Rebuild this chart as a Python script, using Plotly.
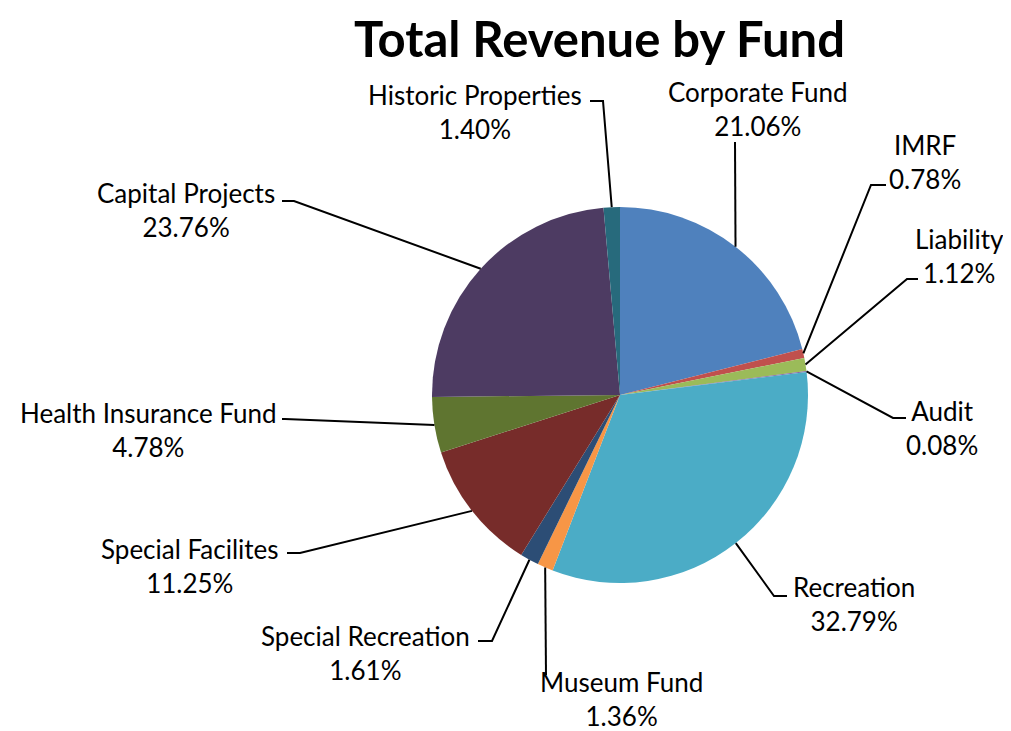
import math
import plotly.graph_objects as go

# ---- data ----
funds = ["Corporate Fund", "IMRF", "Liability", "Audit", "Recreation", "Museum Fund",
         "Special Recreation", "Special Facilites", "Health Insurance Fund",
         "Capital Projects", "Historic Properties"]
shares = [21.06, 0.78, 1.12, 0.08, 32.79, 1.36, 1.61, 11.25, 4.78, 23.76, 1.40]
colors = ["#4F81BD", "#C0504D", "#9BBB59", "#8064A2", "#4BACC6", "#F79646",
          "#2C4D75", "#772C2A", "#5F7530", "#4D3B62", "#276A7C"]
title_text = "Total Revenue by Fund"

# ---- layout (pixels, in page coordinates) ----
OFF = 8  # browser body margin
W, H = 1011 - OFF, 731 - OFF
CX, CY, R = 620, 395, 188
FONT = "Lato, 'Open Sans', sans-serif"

# label centre, leader-line elbow, leader-line end (pixels)
label_pos = [(758, 109), (925, 162), (959, 256), (942, 428), (854, 604), (621, 699),
             (365, 653), (190, 566), (148, 430), (186, 210), (475, 112)]
elbows = [(735, 142), (871, 185), (907, 279), (893, 418), (774, 596), (546, 675),
          (492, 641), (300, 553), (285, 419), (294, 201), (603, 101)]
ends = [(735, 142), (886, 185), (918, 279), (906, 418), (787, 596), (546, 675),
        (478, 641), (287, 553), (282, 419), (282, 201), (590, 101)]


def px(x):
    return (x - OFF) / W


def py(y):
    return 1 - (y - OFF) / H


fig = go.Figure(go.Pie(
    labels=funds, values=shares, sort=False, direction="clockwise", rotation=0,
    marker=dict(colors=colors, line=dict(width=0)),
    textinfo="none", hoverinfo="label+percent", showlegend=False,
    domain=dict(x=[px(CX - R), px(CX + R)], y=[py(CY + R), py(CY - R)]),
))

total = sum(shares)
cum = 0.0
shapes = []
annotations = []
for i, (name, v) in enumerate(zip(funds, shares)):
    mid = (cum + v / 2) / total
    cum += v
    ang = 2 * math.pi * mid
    sx = CX + R * math.sin(ang)
    sy = CY - R * math.cos(ang)
    ex, ey = elbows[i]
    tx, ty = ends[i]
    path = f"M {px(sx)},{py(sy)} L {px(ex)},{py(ey)} L {px(tx)},{py(ty)}"
    shapes.append(dict(type="path", xref="paper", yref="paper", path=path,
                       line=dict(color="black", width=2)))
    lx, ly = label_pos[i]
    annotations.append(dict(
        x=px(lx), y=py(ly), xref="paper", yref="paper", showarrow=False,
        xanchor="center", yanchor="middle", align="center",
        text=f"{name}<br>{v:.2f}%",
        font=dict(family=FONT, size=26, color="black"),
    ))

annotations.append(dict(
    x=px(599), y=1, xref="paper", yref="paper", showarrow=False,
    xanchor="center", yanchor="top", borderpad=0, text=f"<b>{title_text}</b>",
    font=dict(family=FONT, size=49, color="black"),
))

fig.update_layout(
    width=W, height=H, margin=dict(l=0, r=0, t=0, b=0),
    paper_bgcolor="white", plot_bgcolor="white",
    shapes=shapes, annotations=annotations,
)

fig.write_html("out.html")
